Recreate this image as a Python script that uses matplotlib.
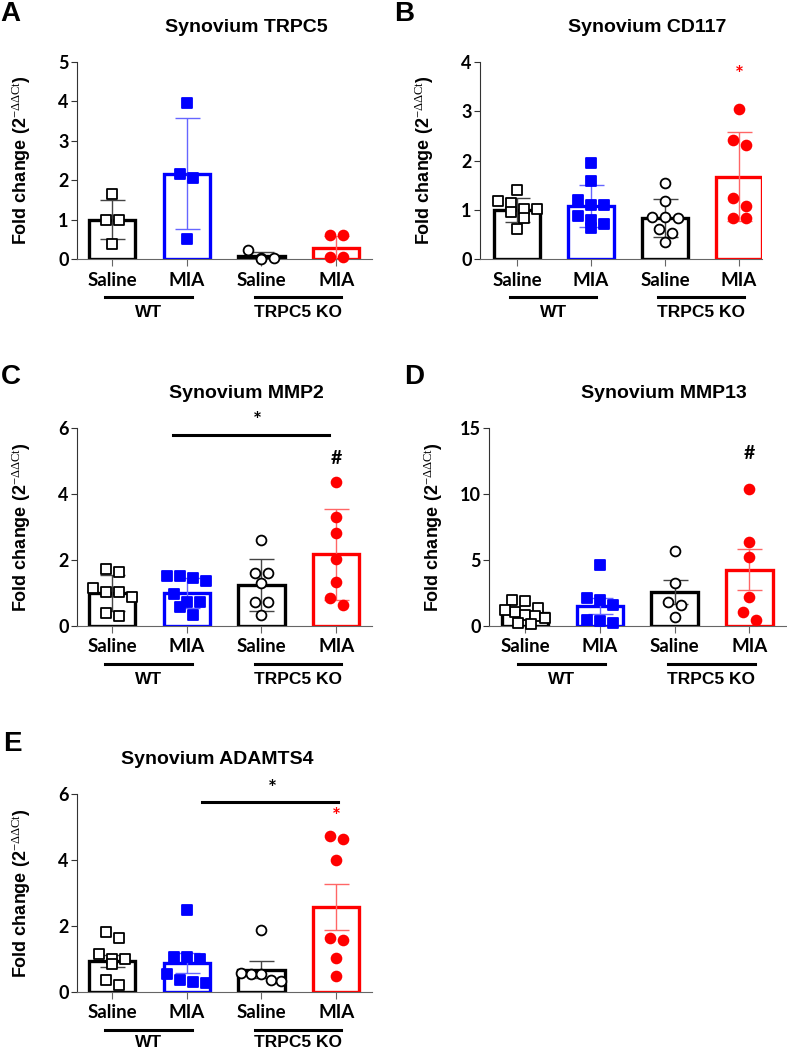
import numpy as np
import matplotlib
matplotlib.use('Agg')
import matplotlib.pyplot as plt

# 字体设置：刻度用 Lato 粗体，标题/坐标轴名用 Arial 风格
plt.rcParams['font.family'] = ['Lato', 'DejaVu Sans']
plt.rcParams['mathtext.fontset'] = 'custom'
plt.rcParams['mathtext.rm'] = 'Liberation Serif'
plt.rcParams['mathtext.it'] = 'Liberation Serif:italic'

W, H = 787, 1050

groups = ['Saline', 'MIA', 'Saline', 'MIA']
genotypes = ['WT', 'TRPC5 KO']

# A - TRPC5
trpc5_pts = [[1.65, 1.0, 1.0, 0.38],
             [3.96, 2.17, 2.06, 0.51],
             [0.24, 0.03, 0.02, 0.01],
             [0.62, 0.62, 0.05, 0.04]]
trpc5_mean = [1.0, 2.17, 0.08, 0.28]
trpc5_err = [0.5, 1.42, 0.1, 0.31]

# B - CD117
cd117_pts = [[1.41, 1.17, 1.14, 1.02, 1.02, 0.95, 0.83, 0.61],
             [1.94, 1.58, 1.2, 1.1, 1.1, 0.87, 0.8, 0.72, 0.63],
             [1.54, 1.17, 0.85, 0.85, 0.83, 0.6, 0.53, 0.35],
             [3.05, 2.42, 2.31, 1.24, 1.07, 0.83, 0.83]]
cd117_mean = [0.99, 1.08, 0.83, 1.67]
cd117_err = [0.24, 0.43, 0.38, 0.9]

# C - MMP2
mmp2_pts = [[1.73, 1.65, 1.15, 1.04, 1.02, 0.89, 0.39, 0.31],
            [1.53, 1.45, 1.35, 1.53, 0.96, 0.74, 0.74, 0.59, 0.33],
            [2.62, 1.61, 1.61, 1.29, 0.73, 0.73, 0.32],
            [4.36, 3.29, 2.81, 2.03, 1.34, 0.85, 0.63]]
mmp2_mean = [1.0, 1.0, 1.25, 2.17]
mmp2_err = [0.55, 0.45, 0.79, 1.37]

# D - MMP13
mmp13_pts = [[1.87, 1.94, 1.36, 1.06, 1.19, 0.81, 0.73, 0.63, 0.23, 0.18],
             [4.65, 2.15, 2.0, 1.6, 0.45, 0.4, 0.2],
             [5.66, 3.28, 1.82, 1.62, 0.68],
             [10.4, 6.36, 5.23, 2.2, 1.06, 0.48]]
mmp13_mean = [0.95, 1.5, 2.55, 4.25]
mmp13_err = [0.2, 0.6, 0.9, 1.55]

# E - ADAMTS4
adamts4_pts = [[1.82, 1.64, 1.14, 1.01, 1.01, 0.86, 0.35, 0.2],
               [2.5, 1.06, 1.06, 1.01, 0.54, 0.37, 0.3, 0.27],
               [1.89, 0.57, 0.56, 0.55, 0.36, 0.33],
               [4.74, 4.64, 4.0, 1.64, 1.57, 1.04, 0.48]]
adamts4_mean = [0.93, 0.87, 0.68, 2.57]
adamts4_err = [0.18, 0.3, 0.27, 0.7]

bar_colors = ['black', '#0000ff', 'black', '#ff0000']
err_colors = ['#444444', '#6666ff', '#444444', '#ff6666']
markers = ['s', 's', 'o', 'o']
faces = ['white', '#0000ff', 'white', '#ff0000']
edges = ['black', '#0000ff', 'black', '#ff0000']

fig = plt.figure(figsize=(W / 100, H / 100), dpi=100)


def add_axes(l, t, r, b):
    return fig.add_axes([l / W, 1 - b / H, (r - l) / W, (b - t) / H]), (r - l), (b - t)


def swarm(ax, vals, spacing=13, mk=9, maxw=20):
    p0 = ax.transData.transform((0, 0))
    p1 = ax.transData.transform((1, 1))
    ppx, ppy = p1[0] - p0[0], p1[1] - p0[1]
    vals = np.asarray(vals)
    order = np.argsort(-vals, kind='stable')
    rows, cur = [], [order[0]]
    for i in order[1:]:
        if (vals[cur[0]] - vals[i]) * ppy < mk:
            cur.append(i)
        else:
            rows.append(cur)
            cur = [i]
    rows.append(cur)
    off = np.zeros(len(vals))
    for row in rows:
        n = len(row)
        step = min(spacing, 2 * maxw / (n - 1)) if n > 1 else 0
        for k, i in enumerate(row):
            off[i] = (k - (n - 1) / 2) * step / ppx
    return off


def panel(box, pts, mean, err, ymax, ystep, title, title_x, letter, letter_xy,
          xlim=(-0.47, 3.48), geno_base=58):
    ax, aw, ah = add_axes(*box)
    x = np.arange(4)
    ax.set_xlim(*xlim)
    ax.set_ylim(0, ymax)
    ax.bar(x, mean, width=0.62, facecolor='white', edgecolor=bar_colors, linewidth=2.4, zorder=2)
    for i in range(4):
        ax.errorbar(x[i], mean[i], yerr=err[i], fmt='none', ecolor=err_colors[i],
                    elinewidth=1, capsize=9, capthick=1, zorder=3)
        off = swarm(ax, pts[i])
        ax.scatter(x[i] + off, pts[i], marker=markers[i], s=50, facecolor=faces[i],
                   edgecolor=edges[i], linewidth=1.3, zorder=4, clip_on=False)
    for s in ['top', 'right']:
        ax.spines[s].set_visible(False)
    ax.spines['left'].set_color('#333333')
    ax.spines['bottom'].set_color('#666666')
    ax.set_yticks(np.arange(0, ymax + 0.01, ystep))
    ax.set_yticklabels([f'{v:g}' for v in np.arange(0, ymax + 0.01, ystep)],
                       fontsize=13, fontweight='bold')
    ax.set_xticks(x)
    ax.set_xticklabels(groups, fontsize=13.5, fontweight='bold')
    ax.tick_params(axis='y', length=4, color='#333333', pad=2)
    ax.tick_params(axis='x', length=5, color='#666666', pad=4)
    # y label
    ax.text(-56 / aw, 0.5, 'Fold change (2$^{-\\Delta\\Delta \\mathrm{Ct}}$)', rotation=90,
            ha='center', va='center', transform=ax.transAxes, fontsize=13,
            fontweight='bold', family=['Liberation Sans'])
    # title
    ax.text(title_x, 1 + 34 / ah, title, ha='center', va='center', transform=ax.transAxes,
            fontsize=14, fontweight='bold', family=['Liberation Sans'])
    # genotype lines
    tr = ax.get_xaxis_transform()
    for j, g in enumerate(genotypes):
        a, b = 2 * j - 0.09, 2 * j + 1.07
        ax.plot([a, b], [-38 / ah, -38 / ah], color='black', lw=2.2, transform=tr, clip_on=False)
        ax.text((a + b) / 2, -geno_base / ah, g, ha='center', va='baseline', transform=tr,
                fontsize=12.5, fontweight='bold', family=['Liberation Sans'])
    fig.text(letter_xy[0] / W, 1 - letter_xy[1] / H, letter, ha='center', va='center',
             fontsize=20, fontweight='bold', family=['Liberation Sans'])
    return ax


panel((77, 62, 372, 259), trpc5_pts, trpc5_mean, trpc5_err, 5, 1,
      'Synovium TRPC5', 0.573, 'A', (10, 14))

axB = panel((480, 62, 762, 259), cd117_pts, cd117_mean, cd117_err, 4, 1,
            'Synovium CD117', 0.592, 'B', (404, 14), xlim=(-0.5, 3.31))
axB.text(3, 3.74, '*', ha='center', va='center', color='#ff0000', fontsize=15, fontweight='bold')

axC = panel((77, 428, 372, 626), mmp2_pts, mmp2_mean, mmp2_err, 6, 2,
            'Synovium MMP2', 0.573, 'C', (11, 377))
axC.plot([0.81, 2.91], [5.8, 5.8], color='black', lw=2.2, clip_on=False)
axC.text(1.95, 6.2, '*', ha='center', va='center', fontsize=15, fontweight='bold')
axC.text(3, 5.09, '#', ha='center', va='center', fontsize=14, fontweight='bold')

axD = panel((489, 428, 786, 626), mmp13_pts, mmp13_mean, mmp13_err, 15, 5,
            'Synovium MMP13', 0.588, 'D', (414, 377), xlim=(-0.48, 3.49))
axD.text(3, 13.05, '#', ha='center', va='center', fontsize=14, fontweight='bold')

axE = panel((77, 794, 372, 992), adamts4_pts, adamts4_mean, adamts4_err, 6, 2,
            'Synovium ADAMTS4', 0.475, 'E', (12, 744), geno_base=55)
axE.plot([1.2, 3.03], [5.75, 5.75], color='black', lw=2.2, clip_on=False)
axE.text(2.15, 6.15, '*', ha='center', va='center', fontsize=15, fontweight='bold')
axE.text(3, 5.31, '*', ha='center', va='center', color='#ff0000', fontsize=15, fontweight='bold')

fig.savefig('out.png', dpi=100)
